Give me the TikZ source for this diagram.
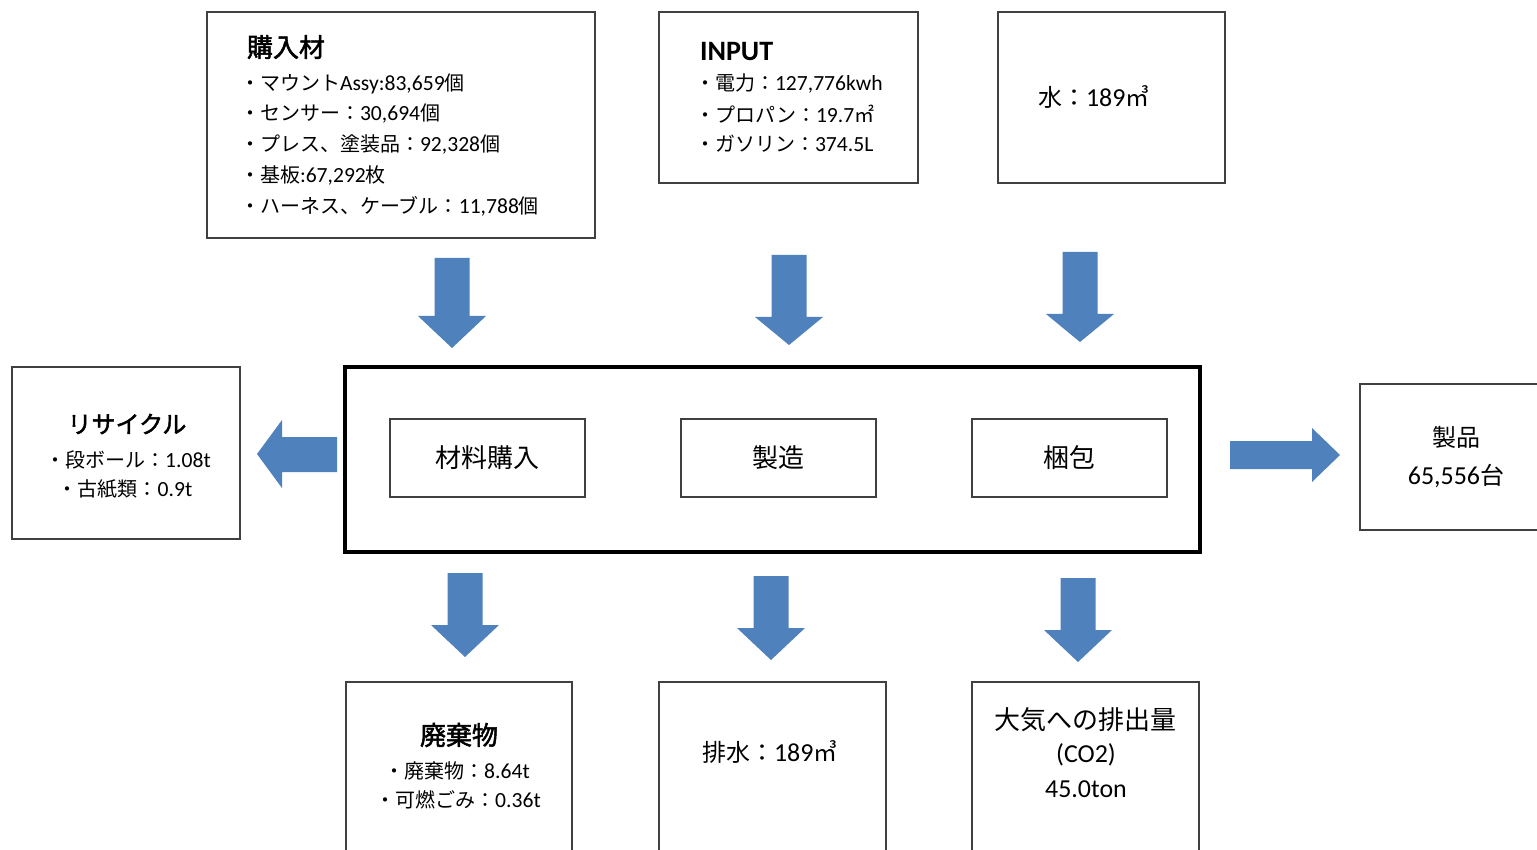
\documentclass[tikz,border=0pt]{standalone}
\usepackage{fontspec}
\setmainfont[Scale=1.08]{Carlito}
\newfontfamily\jp[AutoFakeBold=2]{Noto Sans CJK JP}
\newcommand{\J}[1]{{\jp #1}}
\definecolor{arrowblue}{RGB}{79,129,189}
\definecolor{boxline}{RGB}{64,64,64}
\tikzset{
  box/.style={draw=boxline, line width=1.4pt, fill=white, inner sep=0pt},
  procbox/.style={draw=black, line width=4pt, fill=white, inner sep=0pt},
  txt/.style={inner sep=0pt, outer sep=0pt},
  f20/.style={font=\fontsize{20}{24}\selectfont},
  f24/.style={font=\fontsize{24}{28}\selectfont},
  f26/.style={font=\fontsize{26}{30}\selectfont},
  b24/.style={font=\fontsize{24}{28}\selectfont\bfseries},
  b26/.style={font=\fontsize{26}{30}\selectfont\bfseries},
  blockfill/.style={fill=arrowblue},
  pics/downarrow/.style n args={4}{code={
    \fill[blockfill] (-#3/2,0) -- (#3/2,0) -- (#3/2,#1-#2) -- (#4/2,#1-#2)
      -- (0,#1) -- (-#4/2,#1-#2) -- (-#3/2,#1-#2) -- cycle;}}
}
\begin{document}
\begin{tikzpicture}[x=1pt,y=-1pt]
\useasboundingbox (0,0) rectangle (1537,850);
\clip (0,0) rectangle (1537,850);
\fill[white] (0,0) rectangle (1537,850);

% top boxes
\node[box, minimum width=388, minimum height=226] (kounyu) at (401,125) {};
\node[box, minimum width=259, minimum height=171] (input) at (788.5,97.5) {};
\node[box, minimum width=227, minimum height=171] (water) at (1111.5,97.5) {};

\node[txt, b26, anchor=west] (kt) at (247,47) {\J{購入材}};
\node[txt, f20, anchor=west] (k1) at (240,84) {\J{・マウント}Assy:83,659\J{個}};
\node[txt, f20, anchor=west] (k2) at (240,114) {\J{・センサー：}30,694\J{個}};
\node[txt, f20, anchor=west] (k3) at (240,144) {\J{・プレス、塗装品：}92,328\J{個}};
\node[txt, f20, anchor=west] (k4) at (240,175) {\J{・基板}:67,292\J{枚}};
\node[txt, f20, anchor=west] (k5) at (240,206) {\J{・ハーネス、ケーブル：}11,788\J{個}};

\node[txt, b26, anchor=west] (it) at (700,52) {INPUT};
\node[txt, f20, anchor=west] (i1) at (695,84) {\J{・電力：}127,776kwh};
\node[txt, f20, anchor=west] (i2) at (695,114) {\J{・プロパン：}19.7\J{㎡}};
\node[txt, f20, anchor=west] (i3) at (695,144) {\J{・ガソリン：}374.5L};

\node[txt, f24, anchor=west] (wt) at (1038,97) {\J{水：}189\J{㎥}};

% process
\node[procbox, minimum width=855, minimum height=185] (proc) at (772.5,459.5) {};
\node[box, f26, minimum width=195, minimum height=78] (zairyo) at (487.5,458) {\J{材料購入}};
\node[box, f26, minimum width=195, minimum height=78] (seizo) at (778.5,458) {\J{製造}};
\node[box, f26, minimum width=195, minimum height=78] (konpo) at (1069.5,458) {\J{梱包}};

% side boxes
\node[box, minimum width=228, minimum height=172] (recycle) at (126,453) {};
\node[txt, b24] (rt) at (127,424) {\J{リサイクル}};
\node[txt, f20] (r1) at (128,460) {\J{・段ボール：}1.08t};
\node[txt, f20] (r2) at (125,489) {\J{・古紙類：}0.9t};

\node[box, minimum width=220, minimum height=146] (product) at (1470,457) {};
\node[txt, f24] (p1) at (1456,437) {\J{製品}};
\node[txt, f24] (p2) at (1456,476) {65,556\J{台}};

% bottom boxes
\node[box, minimum width=226, minimum height=198] (waste) at (459,781) {};
\node[txt, b26] (wat) at (459,735) {\J{廃棄物}};
\node[txt, f20] (wa1) at (457,771) {\J{・廃棄物：}8.64t};
\node[txt, f20] (wa2) at (458,800) {\J{・可燃ごみ：}0.36t};

\node[box, minimum width=227, minimum height=198] (drain) at (772.5,781) {};
\node[txt, f24, anchor=west] (dt) at (702,752) {\J{排水：}189\J{㎥}};

\node[box, minimum width=227, minimum height=198] (air) at (1085.5,781) {};
\node[txt, f26] (a1) at (1085,720) {\J{大気への排出量}};
\node[txt, f24] (a2) at (1086,755) {(CO2)};
\node[txt, f24] (a3) at (1086,789) {45.0ton};

% block arrows
\pic at (452,258) {downarrow={90}{32}{35}{68}};
\pic at (789,255) {downarrow={90}{28}{35}{68}};
\pic at (1080,252) {downarrow={90}{28}{35}{68}};
\pic at (465,573) {downarrow={84}{32}{35}{68}};
\pic at (771,576) {downarrow={84}{32}{35}{68}};
\pic at (1078,578) {downarrow={84}{32}{35}{68}};
\fill[blockfill] (337,437) -- (282,437) -- (282,420) -- (257,454) -- (282,488) -- (282,472) -- (337,472) -- cycle;
\fill[blockfill] (1230,441) -- (1312,441) -- (1312,428) -- (1340,455) -- (1312,482) -- (1312,469) -- (1230,469) -- cycle;
\end{tikzpicture}
\end{document}
